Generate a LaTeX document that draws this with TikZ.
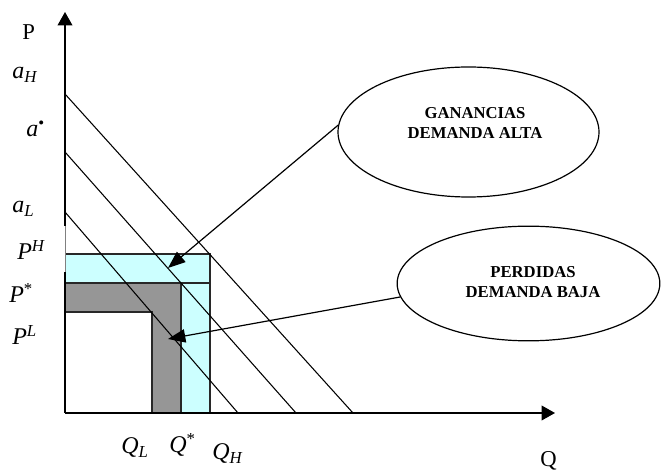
\documentclass[tikz,border=0pt]{standalone}
\usepackage{fontspec}
\setmainfont{Liberation Serif}
\usetikzlibrary{arrows.meta,shapes.geometric}
\definecolor{GainCyan}{RGB}{204,255,255}
\definecolor{LossGray}{RGB}{150,150,150}
\definecolor{EdgeDark}{RGB}{40,40,40}

\begin{document}
\begin{tikzpicture}[x=0.75pt,y=-0.75pt,
    axisline/.style={line width=1.1pt},
    demand/.style={line width=0.8pt},
    edge/.style={draw=EdgeDark,line width=1.2pt},
    axislabel/.style={font=\fontsize{17}{20}\selectfont,inner sep=0pt,anchor=base west},
    mathlabel/.style={font=\fontsize{18}{20}\selectfont,inner sep=0pt,anchor=base west},
    callout/.style={draw,ellipse,line width=0.9pt,inner sep=0pt},
    calltext/.style={font=\bfseries\fontsize{12.5}{14.4}\selectfont,align=center,inner sep=0pt},
    pointer/.style={line width=0.9pt,-{Triangle[length=13pt,width=10pt]}}]
  \useasboundingbox (0,0) rectangle (661,473);
  % profit and loss regions
  \fill[GainCyan] (65,254) rectangle (210,413);
  \fill[LossGray] (65,283) rectangle (181,413);
  \fill[white] (65,312) rectangle (152,413);
  \draw[edge] (65,254) -- (210,254) -- (210,413);
  \draw[edge] (65,283) -- (210,283);
  \draw[edge] (181,283) -- (181,413);
  \draw[edge] (65,312) -- (152,312) -- (152,413);
  % axes
  \draw[axisline] (65,413) -- (65,272);
  \draw[gray,line width=0.4pt] (65,272) -- (65,226);
  \draw[axisline,-{Triangle[length=10pt,width=11pt]}] (65,226) -- (65,12);
  \draw[axisline,-{Triangle[length=10pt,width=11pt]}] (65,413) -- (555,413);
  % demand curves
  \foreach \ya/\xb in {94/353,152/296,212/238}
    \draw[demand] (65,\ya) -- (\xb,413);
  % axis labels
  \node[axislabel] (Plab) at (22,40) {P};
  \node[axislabel] (Qlab) at (540,467) {Q};
  \node[mathlabel] (aH) at (12,79) {\textit{a}\textsubscript{\textit{H}}};
  \node[mathlabel] (aStar) at (26,137) {\textit{a}\textsuperscript{\textbullet}};
  \node[mathlabel] (aL) at (12,213) {\textit{a}\textsubscript{\textit{L}}};
  \node[mathlabel] (PH) at (17,260) {\textit{P}\textsuperscript{\textit{H}}};
  \node[mathlabel] (PStar) at (9,303) {\textit{P}\textsuperscript{*}};
  \node[mathlabel] (PL) at (12,345) {\textit{P}\textsuperscript{\textit{L}}};
  \node[mathlabel] (QL) at (121,454) {\textit{Q}\textsubscript{\textit{L}}};
  \node[mathlabel] (QStar) at (169,453) {\textit{Q}\textsuperscript{*}};
  \node[mathlabel] (QH) at (212,460) {\textit{Q}\textsubscript{\textit{H}}};
  % callouts
  \node[callout,minimum width=195.75pt,minimum height=97.5pt] (gain) at (468.5,132) {};
  \node[calltext] (gaintext) at (475,123) {GANANCIAS\\DEMANDA ALTA};
  \node[callout,minimum width=197pt,minimum height=86pt] (loss) at (528.5,283.5) {};
  \node[calltext] (losstext) at (533,282) {PERDIDAS\\DEMANDA BAJA};
  \coordinate (gainpt) at (168,268);
  \coordinate (losspt) at (168,339);
  \draw[pointer] (gain.177) -- (gainpt);
  \draw[pointer] (loss.186) -- (losspt);
\end{tikzpicture}
\end{document}
